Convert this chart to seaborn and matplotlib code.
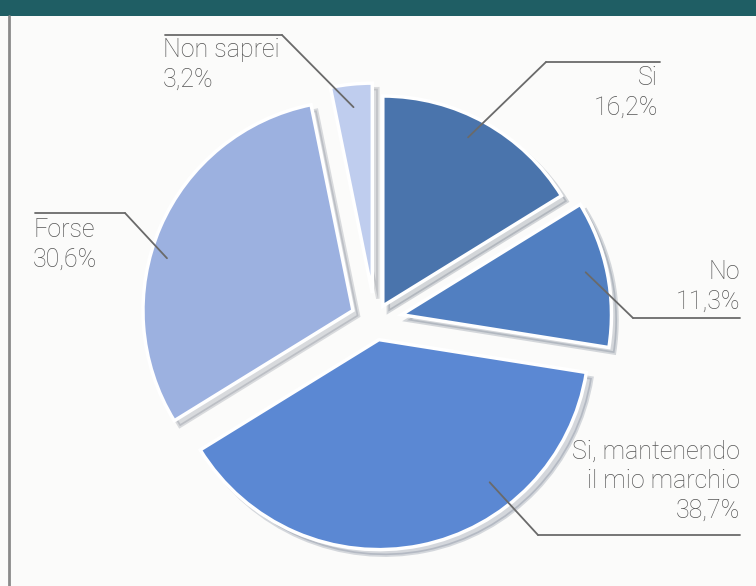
import matplotlib
matplotlib.use("Agg")
import matplotlib.pyplot as plt
import seaborn as sns
import numpy as np

# ---- data ----
categories = ["Si", "No", "Si, mantenendo\nil mio marchio", "Forse", "Non saprei"]
values = [16.2, 11.3, 38.7, 30.6, 3.2]
value_labels = ["16,2%", "11,3%", "38,7%", "30,6%", "3,2%"]
colors = ["#4a74ac", "#517fc1", "#5b88d3", "#9cb1e0", "#bfcdee"]

sns.set_theme(style="white")
plt.rcParams['font.family'] = ['Roboto', 'DejaVu Sans']

W, H = 756, 586
fig = plt.figure(figsize=(W / 100, H / 100), dpi=100)
fig.patch.set_facecolor("#fbfbfa")
ax = fig.add_axes([0, 0, 1, 1])

def py(y):
    return H - y

explode_px = [16, 27, 20, 24, 27]
R = 210
wedges, _ = ax.pie(values, colors=colors, startangle=90, counterclock=False,
                   center=(375, py(320)), radius=R, explode=explode_px,
                   wedgeprops=dict(edgecolor="white", linewidth=2.5),
                   shadow=dict(ox=4, oy=-4, shade=0.6, alpha=0.18))

ax.set_xlim(0, W)
ax.set_ylim(0, H)
ax.set_aspect("equal")
ax.axis("off")

# header band and left rule
ax.add_patch(plt.Rectangle((0, py(16)), W, 16, color="#1f5e64", zorder=0, lw=0))
ax.plot([9, 9], [py(16), py(586)], color="#8a8a8a", lw=2, zorder=0)

# label layout: (anchor fraction along wedge, anchor radius frac, text x, text top y, ha,
#                line y, line x0, line x1, corner x)
layout = [
    (0.46, 0.9, 658, 66, "right", 62, 546, 660, 546),
    (0.46, 0.9, 740, 260, "right", 318, 633, 740, 633),
    (0.31, 0.86, 740, 440, "right", 535, 538, 740, 538),
    (0.43, 0.92, 33, 218, "left", 213, 35, 125, 125),
    (0.5, 0.89, 163, 38, "left", 35, 165, 282, 282),
]

for w, cat, vl, lay in zip(wedges, categories, value_labels, layout):
    f, rf, tx, ty, ha, ly, lx0, lx1, cx = lay
    ang = np.deg2rad(w.theta2 - f * (w.theta2 - w.theta1))
    axp = w.center[0] + rf * R * np.cos(ang)
    ayp = w.center[1] + rf * R * np.sin(ang)
    ax.plot([lx0, lx1], [py(ly), py(ly)], color="#6a6a6a", lw=1.3, zorder=5)
    ax.plot([cx, axp], [py(ly), ayp], color="#6a6a6a", lw=1.3, zorder=5)
    ax.text(tx, py(ty), cat + "\n" + vl, ha=ha, va="top", fontsize=18,
            color="#555555", linespacing=1.28, multialignment=ha, zorder=6,
            fontweight="light")

fig.savefig("out.png", dpi=100, facecolor=fig.get_facecolor())
